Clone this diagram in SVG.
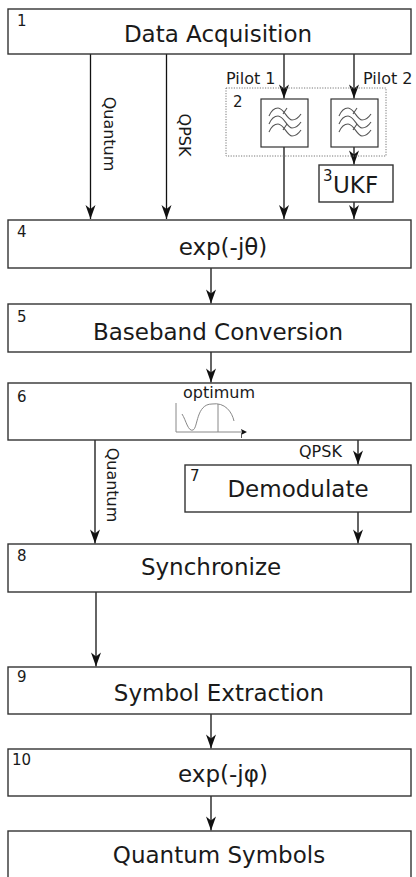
<svg xmlns="http://www.w3.org/2000/svg" width="416" height="877" viewBox="0 0 416 877">
<style>
.box{fill:#fff;stroke:#333;stroke-width:1.4}
.t{font-family:"DejaVu Sans","Noto Sans",sans-serif;fill:#1a1a1a}
.big{font-size:23px;text-anchor:middle}
.num{font-size:15px}
.lbl{font-size:16px}
.con{fill:none;stroke:#111;stroke-width:1.3;marker-end:url(#ah)}
.wave{fill:none;stroke:#555;stroke-width:1.1}
</style>
<defs>
<marker id="ah" markerUnits="userSpaceOnUse" markerWidth="16" markerHeight="12" viewBox="-15 -6 16 12" refX="0" refY="0" orient="auto">
<path d="M0,0 L-14,-5 L-10,0 L-14,5 Z" fill="#111"/>
</marker>
<g id="filt">
<rect x="0" y="0" width="47" height="48" fill="#fff" stroke="#333" stroke-width="1.2"/>
<path id="w" class="wave" d="M8,17 C11,10 14,9 17,9 C23,9 26,21 31,21 C35,21 38,18 40,15"/>
<use href="#w" y="8"/>
<use href="#w" y="16"/>
<path class="wave" d="M22,15 l4,-6 M22,31 l4,-6"/>
</g>
</defs>

<g id="connectors">
<line class="con" x1="90.5" y1="54" x2="90.5" y2="219"/>
<line class="con" x1="166.5" y1="54" x2="166.5" y2="219"/>
<line class="con" x1="284" y1="54" x2="284" y2="98.5"/>
<line class="con" x1="284" y1="147" x2="284" y2="219"/>
<line class="con" x1="354" y1="54" x2="354" y2="98.5"/>
<line class="con" x1="354" y1="147" x2="354" y2="164.5"/>
<line class="con" x1="354" y1="202" x2="354" y2="219"/>
<line class="con" x1="211" y1="268" x2="211" y2="303.5"/>
<line class="con" x1="211" y1="352" x2="211" y2="382.5"/>
<line class="con" x1="95" y1="440" x2="95" y2="543.5"/>
<line class="con" x1="358" y1="440" x2="358" y2="464.5"/>
<line class="con" x1="358" y1="512" x2="358" y2="543.5"/>
<line class="con" x1="96" y1="592" x2="96" y2="666.5"/>
<line class="con" x1="211" y1="714" x2="211" y2="748.5"/>
<line class="con" x1="211" y1="796" x2="211" y2="830.5"/>
<text class="t lbl" text-anchor="middle" dy="0.35em" transform="translate(110,134) rotate(90)">Quantum</text>
<text class="t lbl" text-anchor="middle" dy="0.35em" transform="translate(185,135) rotate(90)">QPSK</text>
<text class="t lbl" x="226" y="84">Pilot 1</text>
<text class="t lbl" x="363" y="84">Pilot 2</text>
<text class="t lbl" text-anchor="middle" dy="0.35em" transform="translate(113,485) rotate(90)">Quantum</text>
<text class="t lbl" x="299" y="457">QPSK</text>
</g>

<g id="n1">
<rect class="box" x="8" y="9" width="403" height="45"/>
<text class="t num" x="17" y="26">1</text>
<text class="t big" x="218" y="42">Data Acquisition</text>
</g>

<g id="n2">
<rect x="226" y="88" width="160" height="68" fill="none" stroke="#777" stroke-width="1" stroke-dasharray="1.2,1.4"/>
<text class="t num" x="233" y="107">2</text>
<use href="#filt" x="261" y="99"/>
<use href="#filt" x="331" y="99"/>
</g>

<g id="n3">
<rect class="box" x="319" y="165" width="74" height="37"/>
<text class="t num" x="323" y="181">3</text>
<text class="t" x="333" y="193" font-size="23">UKF</text>
</g>

<g id="n4">
<rect class="box" x="8" y="220" width="403" height="48"/>
<text class="t num" x="17" y="237">4</text>
<text class="t big" x="223" y="255">exp(-jθ)</text>
</g>

<g id="n5">
<rect class="box" x="8" y="304" width="403" height="48"/>
<text class="t num" x="17" y="322">5</text>
<text class="t big" x="218" y="340">Baseband Conversion</text>
</g>

<g id="n6">
<rect class="box" x="8" y="383" width="403" height="57"/>
<text class="t num" x="17" y="402">6</text>
<text class="t lbl" x="219" y="398" text-anchor="middle">optimum</text>
<g fill="none" stroke="#888" stroke-width="1">
<path d="M176,403 V432 H243"/>
<path d="M218,404 V432"/>
<path d="M182,414 C186,420 188,432 193,430 C198,428 196,404 212,404 C225,402 232,412 234,421"/>
</g>
<path d="M247,432 L241,429 L242,432 L241,435 Z" fill="#111"/>
<line x1="241.5" y1="433" x2="241.5" y2="438" stroke="#555" stroke-width="1"/>
</g>

<g id="n7">
<rect class="box" x="185" y="465" width="226" height="47"/>
<text class="t num" x="190" y="481">7</text>
<text class="t big" x="298" y="497">Demodulate</text>
</g>

<g id="n8">
<rect class="box" x="8" y="544" width="403" height="48"/>
<text class="t num" x="17" y="561">8</text>
<text class="t big" x="211" y="575">Synchronize</text>
</g>

<g id="n9">
<rect class="box" x="8" y="667" width="403" height="47"/>
<text class="t num" x="17" y="682">9</text>
<text class="t big" x="219" y="701">Symbol Extraction</text>
</g>

<g id="n10">
<rect class="box" x="8" y="749" width="403" height="47"/>
<text class="t num" x="12" y="765">10</text>
<text class="t big" x="223" y="782">exp(-jφ)</text>
</g>

<g id="n11">
<rect class="box" x="8" y="831" width="403" height="60"/>
<text class="t big" x="219" y="863">Quantum Symbols</text>
</g>
</svg>
